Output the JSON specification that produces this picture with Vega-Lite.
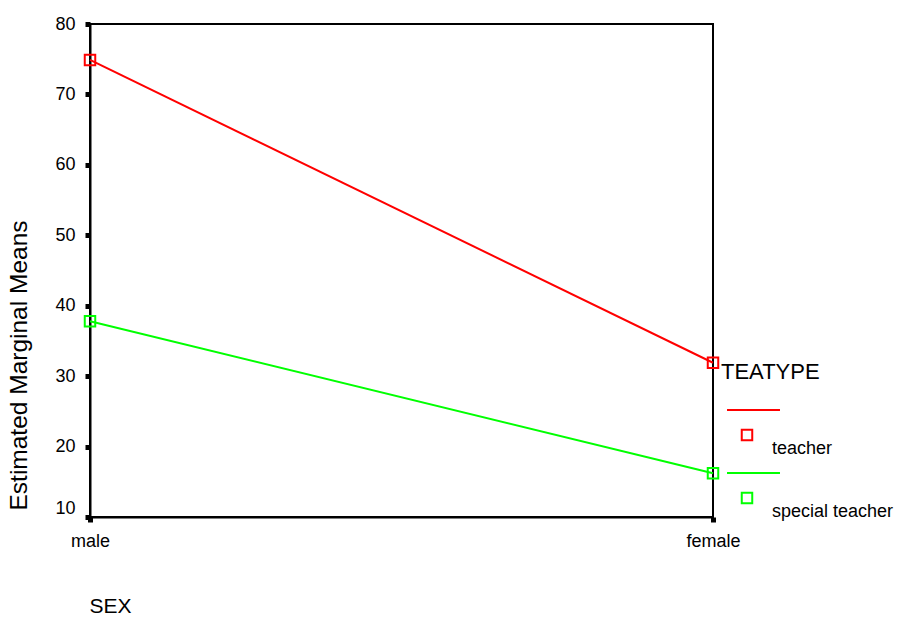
{
  "$schema": "https://vega.github.io/schema/vega-lite/v6.json",
  "autosize": {"type": "none"},
  "padding": {"left": 90, "top": 24, "right": 190, "bottom": 100},
  "width": 623,
  "height": 493,
  "background": "white",
  "config": {
    "font": "Liberation Sans",
    "view": {"stroke": "#000000", "strokeWidth": 2},
    "axis": {"domainColor": "#000000", "domainWidth": 2, "tickColor": "#000000", "labelColor": "#000000", "titleColor": "#000000", "grid": false, "titleFontWeight": "normal", "labelFont": "Liberation Sans", "titleFont": "Liberation Sans"},
    "legend": {"labelFont": "Liberation Sans", "titleFont": "Liberation Sans"}
  },
  "data": {
    "values": [
      {"SEX": "male", "TEATYPE": "teacher", "mean": 74.9},
      {"SEX": "female", "TEATYPE": "teacher", "mean": 31.9},
      {"SEX": "male", "TEATYPE": "special teacher", "mean": 37.8},
      {"SEX": "female", "TEATYPE": "special teacher", "mean": 16.2}
    ]
  },
  "encoding": {
    "x": {
      "field": "SEX", "type": "nominal",
      "scale": {"type": "point", "domain": ["male", "female"], "padding": 0},
      "axis": {
        "title": "SEX", "titleFontSize": 21, "titleX": 20, "titleY": 89, "titleAlign": "center", "titleBaseline": "middle",
        "labelAngle": 0, "labelFontSize": 18, "labelPadding": 10, "tickSize": 5, "tickWidth": 5
      }
    },
    "y": {
      "field": "mean", "type": "quantitative",
      "scale": {"domain": [10, 80], "nice": false, "zero": false},
      "axis": {
        "title": "Estimated Marginal Means", "titleFontSize": 24.5, "titleX": -71, "titleY": 341, "titleAngle": 270, "titleAlign": "center", "titleBaseline": "middle",
        "values": [10, 20, 30, 40, 50, 60, 70, 80],
        "labelFontSize": 18, "labelPadding": 10, "tickSize": 5, "tickWidth": 5,
        "labelBaseline": {"condition": {"test": "datum.value == 10", "value": "bottom"}, "value": "middle"}
      }
    },
    "color": {
      "field": "TEATYPE", "type": "nominal",
      "scale": {"domain": ["teacher", "special teacher"], "range": ["#ff0000", "#00ff00"]},
      "legend": {
        "title": "TEATYPE", "orient": "none", "legendX": 631, "legendY": 338, "padding": 0,
        "titleFontSize": 22, "titleFontWeight": "normal", "titleColor": "#000000", "titlePadding": 42,
        "labelFontSize": 18, "labelColor": "#000000", "labelOffset": 16,
        "symbolType": "M-3.81,-4.76H6.29M-1,-1H1V1H-1Z", "symbolSize": 110, "symbolStrokeWidth": 2, "symbolOffset": 17,
        "symbolFillColor": "transparent", "rowPadding": 11,
        "encode": {"labels": {"update": {"dy": {"value": 14}}}}
      }
    }
  },
  "layer": [
    {"mark": {"type": "line", "strokeWidth": 2}},
    {"mark": {"type": "point", "shape": "square", "filled": false, "size": 110, "strokeWidth": 2, "opacity": 1}}
  ]
}
